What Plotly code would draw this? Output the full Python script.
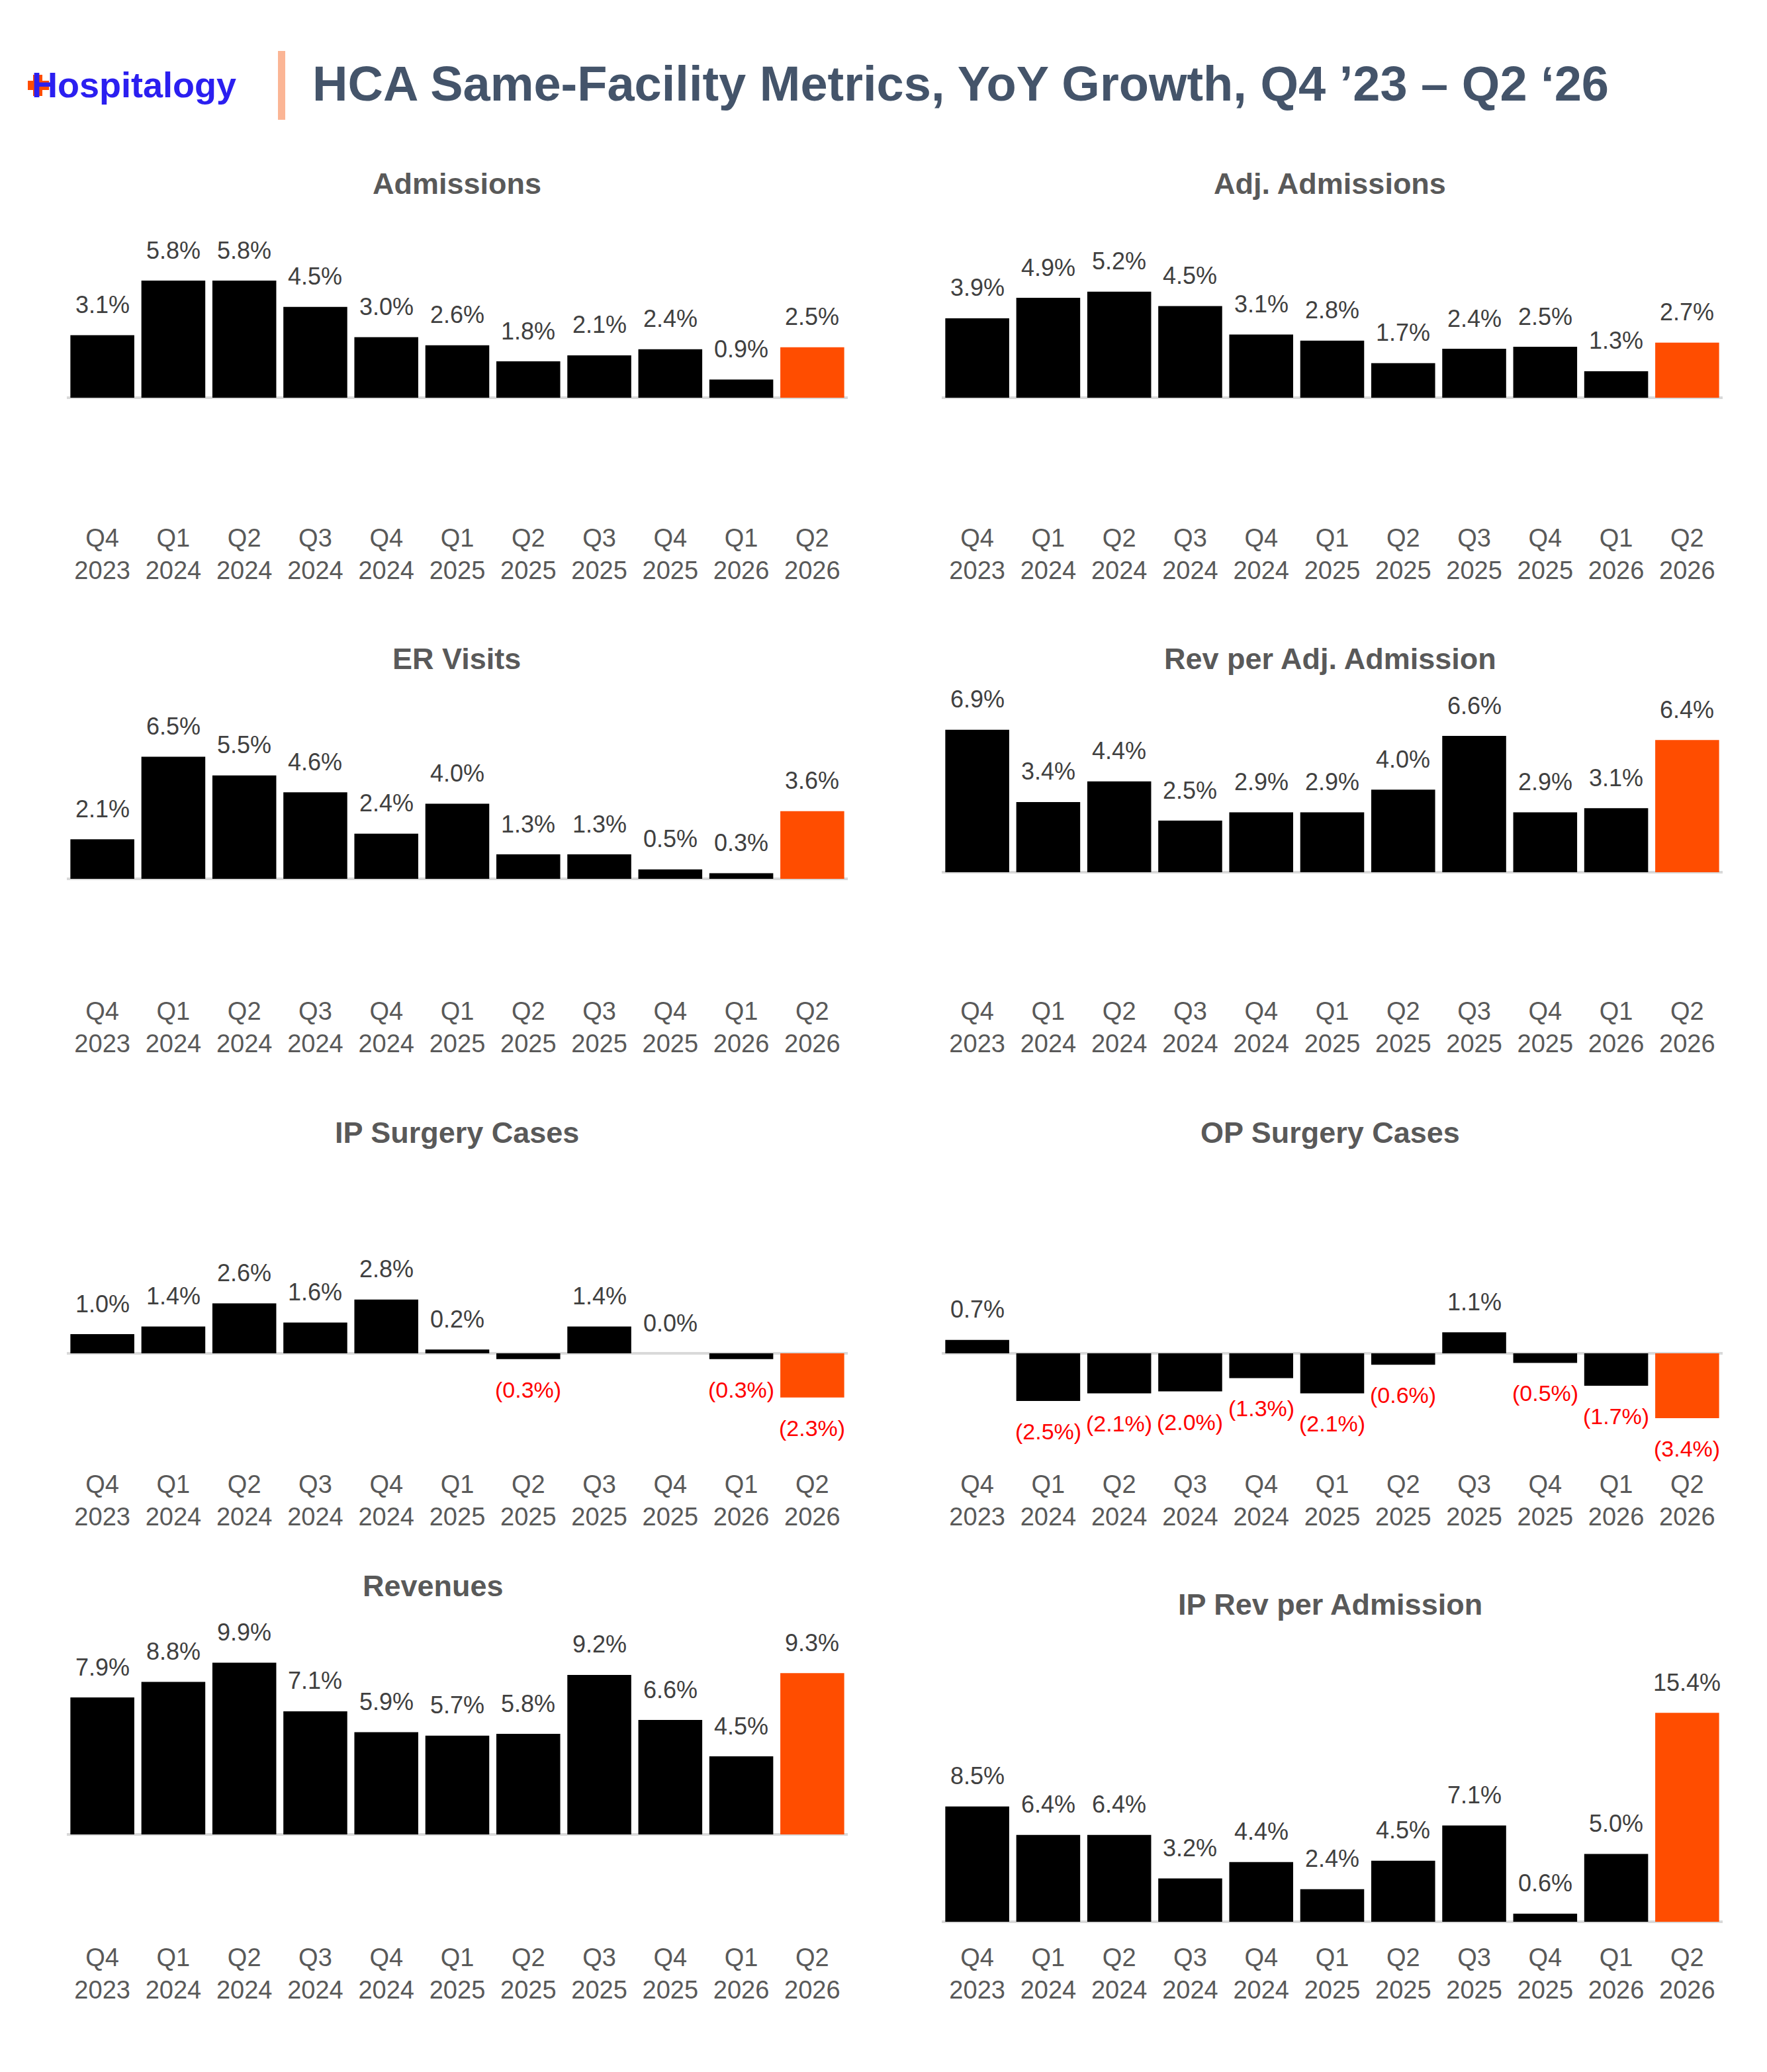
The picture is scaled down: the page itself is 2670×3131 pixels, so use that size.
import plotly.graph_objects as go

W, H = 2670, 3131

quarters = ["Q4", "Q1", "Q2", "Q3", "Q4", "Q1", "Q2", "Q3", "Q4", "Q1", "Q2"]
years = ["2023", "2024", "2024", "2024", "2024", "2025", "2025", "2025", "2025", "2026", "2026"]
tick_labels = [f"{q}<br>{y}" for q, y in zip(quarters, years)]

admissions = [3.1, 5.8, 5.8, 4.5, 3.0, 2.6, 1.8, 2.1, 2.4, 0.9, 2.5]
adj_admissions = [3.9, 4.9, 5.2, 4.5, 3.1, 2.8, 1.7, 2.4, 2.5, 1.3, 2.7]
er_visits = [2.1, 6.5, 5.5, 4.6, 2.4, 4.0, 1.3, 1.3, 0.5, 0.3, 3.6]
rev_per_adj_adm = [6.9, 3.4, 4.4, 2.5, 2.9, 2.9, 4.0, 6.6, 2.9, 3.1, 6.4]
ip_surgery = [1.0, 1.4, 2.6, 1.6, 2.8, 0.2, -0.3, 1.4, 0.0, -0.3, -2.3]
op_surgery = [0.7, -2.5, -2.1, -2.0, -1.3, -2.1, -0.6, 1.1, -0.5, -1.7, -3.4]
revenues = [7.9, 8.8, 9.9, 7.1, 5.9, 5.7, 5.8, 9.2, 6.6, 4.5, 9.3]
ip_rev_per_adm = [8.5, 6.4, 6.4, 3.2, 4.4, 2.4, 4.5, 7.1, 0.6, 5.0, 15.4]

FONT = "Liberation Sans, Arial, sans-serif"
BLACK = "#000000"
ORANGE = "#FF4D00"
LABEL_GRAY = "#404040"
TITLE_GRAY = "#595959"
NEG_RED = "#FF0000"

# panel layout in pixels: (title, values, col, title_y, title_x, baseline_y, px_per_pct, tick_y)
panels = [
    ("Admissions", admissions, 0, 278, 690, 601, 30.5, 817),
    ("Adj. Admissions", adj_admissions, 1, 278, 2010, 601, 30.8, 817),
    ("ER Visits", er_visits, 0, 995, 690, 1328, 28.4, 1532),
    ("Rev per Adj. Admission", rev_per_adj_adm, 1, 995, 2010, 1318, 31.2, 1532),
    ("IP Surgery Cases", ip_surgery, 0, 1711, 690, 2045, 29.0, 2247),
    ("OP Surgery Cases", op_surgery, 1, 1711, 2010, 2045, 28.8, 2247),
    ("Revenues", revenues, 0, 2396, 654, 2772, 26.2, 2962),
    ("IP Rev per Admission", ip_rev_per_adm, 1, 2424, 2010, 2904, 20.5, 2962),
]

col_x = [(101, 1281), (1423, 2603)]

fig = go.Figure()
annotations = []

for i, (title, vals, col, ty, tx, base, scale, tick_y) in enumerate(panels):
    n = i + 1
    xa = "x" if n == 1 else f"x{n}"
    ya = "y" if n == 1 else f"y{n}"
    colors = [BLACK] * (len(vals) - 1) + [ORANGE]
    fig.add_trace(go.Bar(
        x=list(range(len(vals))), y=vals, marker=dict(color=colors, line=dict(width=0)),
        xaxis=xa, yaxis=ya, showlegend=False, hoverinfo="skip",
    ))
    top_px = ty + 60
    bottom_px = tick_y - 30
    ymin = -(bottom_px - base) / scale
    ymax = (base - top_px) / scale
    x0, x1 = col_x[col]
    axkey = "" if n == 1 else str(n)
    fig.update_layout(**{
        f"xaxis{axkey}": dict(
            domain=[x0 / W, x1 / W], range=[-0.5, len(vals) - 0.5],
            tickmode="array", tickvals=list(range(len(vals))), ticktext=tick_labels,
            tickfont=dict(family=FONT, size=38, color=TITLE_GRAY),
            showgrid=False, zeroline=False, showline=False, ticks="",
            anchor=ya, fixedrange=True,
        ),
        f"yaxis{axkey}": dict(
            domain=[1 - bottom_px / H, 1 - top_px / H], range=[ymin, ymax],
            showgrid=False, showticklabels=False, ticks="", showline=False,
            zeroline=True, zerolinecolor="#D9D9D9", zerolinewidth=4,
            anchor=xa, fixedrange=True,
        ),
    })
    for j, v in enumerate(vals):
        if v < 0:
            txt = f"({abs(v):.1f}%)"
            colr = NEG_RED
            shift = -46
            fs = 34
        else:
            txt = f"{v:.1f}%"
            colr = LABEL_GRAY
            shift = 46
            fs = 36
        annotations.append(dict(
            x=j, y=v, xref=xa, yref=ya, text=txt, showarrow=False,
            yshift=shift, yanchor="middle", xanchor="center",
            font=dict(family=FONT, size=fs, color=colr),
        ))
    annotations.append(dict(
        x=tx / W, y=1 - ty / H, xref="paper", yref="paper", text=f"<b>{title}</b>",
        showarrow=False, xanchor="center", yanchor="middle",
        font=dict(family=FONT, size=45, color=TITLE_GRAY),
    ))

# header
annotations.append(dict(
    x=470 / W, y=1 - 126 / H, xref="paper", yref="paper",
    text="<b>HCA Same-Facility Metrics, YoY Growth, Q4 \u201923 \u2013 Q2 \u201826</b>",
    showarrow=False, xanchor="left", yanchor="middle",
    font=dict(family=FONT, size=74, color="#44546A"),
))
annotations.append(dict(
    x=46 / W, y=1 - 128 / H, xref="paper", yref="paper",
    text="<b>Hospitalogy</b>", showarrow=False, xanchor="left", yanchor="middle",
    font=dict(family=FONT, size=54, color="#2B1FF0"),
))

shapes = [
    dict(type="rect", xref="paper", yref="paper", x0=420 / W, x1=431 / W,
         y0=1 - 181 / H, y1=1 - 77 / H, fillcolor="#FBB595", line=dict(width=0)),
    dict(type="rect", xref="paper", yref="paper", x0=42 / W, x1=74 / W,
         y0=1 - 136 / H, y1=1 - 122 / H, fillcolor=ORANGE, line=dict(width=0)),
    dict(type="rect", xref="paper", yref="paper", x0=50 / W, x1=64 / W,
         y0=1 - 145 / H, y1=1 - 113 / H, fillcolor=ORANGE, line=dict(width=0)),
]

fig.update_layout(
    width=W, height=H, margin=dict(l=0, r=0, t=0, b=0),
    paper_bgcolor="white", plot_bgcolor="white",
    bargap=0.1, showlegend=False,
    annotations=annotations, shapes=shapes,
    font=dict(family=FONT),
)

fig.write_html("out.html")
